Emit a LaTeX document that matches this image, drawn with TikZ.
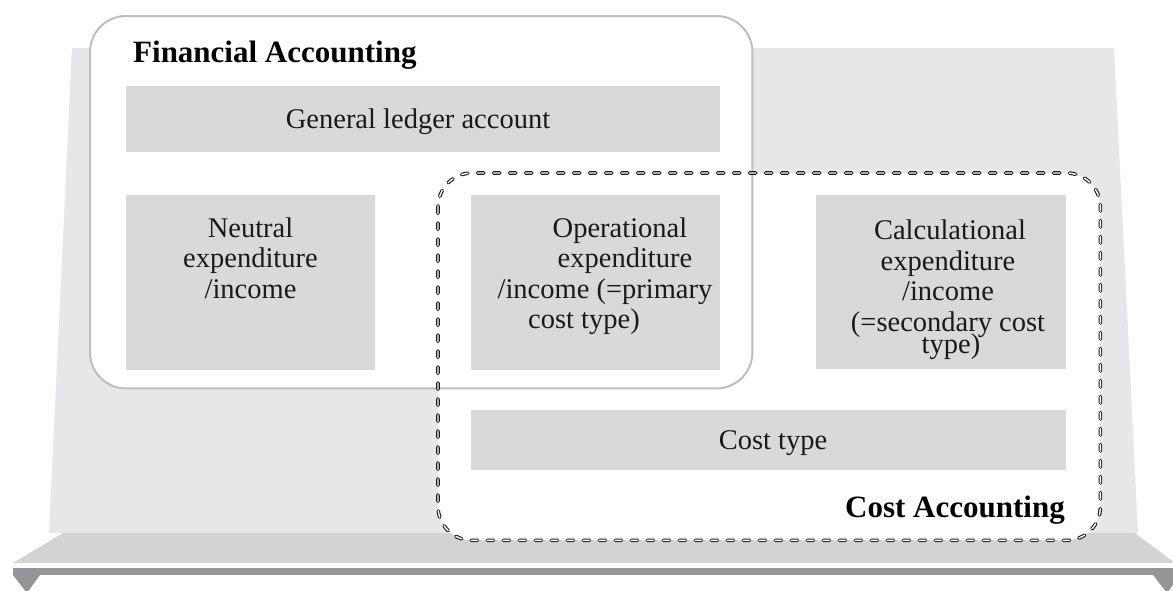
\documentclass[tikz,border=0pt]{standalone}
\usepackage{fontspec}
\setmainfont{Liberation Serif}
\definecolor{backdrop}{HTML}{E6E7E8}
\definecolor{plinth}{HTML}{D1D3D4}
\definecolor{rail}{HTML}{939598}
\definecolor{cellgray}{HTML}{D9D9D9}
\definecolor{framegray}{HTML}{BCBEC0}
\definecolor{inkdark}{HTML}{1A1A1A}
\begin{document}
\begin{tikzpicture}[x=1pt,y=-1pt,
  cell/.style={fill=cellgray, draw=none, inner sep=0pt, anchor=north west},
  celltext/.style={font=\fontsize{28.5}{30.5}\selectfont, align=center, inner sep=0pt, text=inkdark},
  heading/.style={font=\bfseries\fontsize{31}{34}\selectfont, inner sep=0pt, text=black},
  frame/.style={draw=framegray, line width=2pt, rounded corners=36pt},
  dashframe/.style={draw=inkdark, line width=1.1pt, double=white, double distance=1.4pt,
    line cap=round, dash pattern=on 6.3pt off 9.7pt, rounded corners=34pt}]
\useasboundingbox (0,0) rectangle (1173,590);

% backdrop board and plinth
\fill[backdrop] (72,48) -- (1114,48) -- (1138,533) -- (49,533) -- cycle;
\fill[plinth] (63,533) -- (1135,533) -- (1175,563) -- (13,563) -- cycle;
\fill[rail] (13,568) rectangle (1175,575);
\fill[rail] (13,575) -- (40,575) -- (27,593) -- cycle;
\fill[rail] (1153,575) -- (1180,575) -- (1167,593) -- cycle;

% area backgrounds
\node[fill=white, rounded corners=36pt, inner sep=0pt, anchor=north west,
  minimum width=662pt, minimum height=372pt] (fin) at (90,16) {};
\node[fill=white, rounded corners=34pt, inner sep=0pt, anchor=north west,
  minimum width=662pt, minimum height=367pt] (cost) at (438,173) {};

% cells
\node[cell, minimum width=594pt, minimum height=66pt] (ledger) at (126,86) {};
\node[cell, minimum width=249pt, minimum height=175pt] (neutral) at (126,195) {};
\node[cell, minimum width=249pt, minimum height=175pt] (oper) at (471,195) {};
\node[cell, minimum width=250pt, minimum height=174pt] (calc) at (816,195) {};
\node[cell, minimum width=595pt, minimum height=60pt] (ctype) at (471,410) {};

% area outlines
\draw[frame] (fin.north west) rectangle (fin.south east);
\draw[dashframe] (cost.north west) rectangle (cost.south east);

% cell texts
\node[celltext, anchor=base] (ledgertxt) at (418,128) {General ledger account};
\node[celltext, anchor=north] (neutraltxt) at (250.5,217.5)
  {Neutral\\expenditure\\/income};
\node[celltext, anchor=north] (opertxt) at (605,217.5)
  {\hspace*{30pt}Operational\\\hspace*{40pt}expenditure\\/income (=primary\\cost type)\hspace*{42pt}};
\node[celltext, anchor=north] (calctxt) at (948,220)
  {\hspace*{4pt}Calculational\\expenditure\\/income\\(=secondary cost\\[-8.5pt]\hspace*{6pt}type)};
\node[celltext, anchor=base] (ctypetxt) at (773,449) {Cost type};

% area titles
\node[heading, anchor=base west] (fintitle) at (133,62) {Financial Accounting};
\node[heading, anchor=base east] (costtitle) at (1065,517) {Cost Accounting};
\end{tikzpicture}
\end{document}
